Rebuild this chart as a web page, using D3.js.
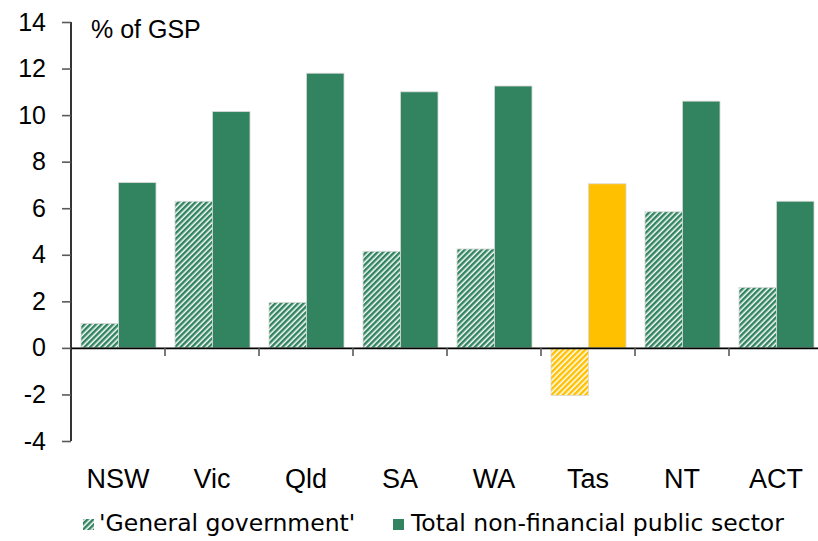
<!DOCTYPE html>
<html><head><meta charset="utf-8">
<script src="https://cdn.jsdelivr.net/npm/d3@7/dist/d3.min.js"></script>
<style>body{margin:0;background:#fff}</style>
</head><body>
<script>
const categories = ["NSW","Vic","Qld","SA","WA","Tas","NT","ACT"];
const generalGov = [1.05, 6.3, 1.95, 4.15, 4.25, -2.05, 5.85, 2.6];
const totalNFPS = [7.1, 10.15, 11.8, 11.0, 11.25, 7.05, 10.6, 6.3];
const yTicks = [-4,-2,0,2,4,6,8,10,12,14];
const highlight = "Tas";

const W=818,H=541;
const svg=d3.select("body").append("svg").attr("width",W).attr("height",H);
const font="'Liberation Sans', Arial, sans-serif";
const lfont="'DejaVu Sans', sans-serif";
const green="#31845f", yellow="#ffc000";

const defs=svg.append("defs");
function hatch(id,color){
  const p=defs.append("pattern").attr("id",id).attr("patternUnits","userSpaceOnUse")
    .attr("width",4).attr("height",4).attr("patternTransform","rotate(45)");
  p.append("rect").attr("width",4).attr("height",4).attr("fill","#fff");
  p.append("rect").attr("width",2.5).attr("height",4).attr("fill",color);
}
hatch("hg",green); hatch("hy",yellow);

const x0=71;
const x=d3.scaleBand().domain(categories).range([x0,x0+94*8]).paddingInner(0).paddingOuter(0);
const y=d3.scaleLinear().domain([-4,14]).range([441,22]);
const inner=d3.scaleBand().domain(["gg","tot"]).range([10,85]);

const g=svg.append("g");
categories.forEach((c,i)=>{
  const col = c===highlight?yellow:green;
  const vg=generalGov[i], vt=totalNFPS[i];
  g.append("rect").attr("x",x(c)+inner("gg")).attr("width",inner.bandwidth())
    .attr("y",y(Math.max(0,vg))).attr("height",Math.abs(y(vg)-y(0)))
    .attr("fill",c===highlight?"url(#hy)":"url(#hg)").attr("stroke","#d8d8d8").attr("stroke-width",0.8);
  g.append("rect").attr("x",x(c)+inner("tot")).attr("width",inner.bandwidth())
    .attr("y",y(Math.max(0,vt))).attr("height",Math.abs(y(vt)-y(0)))
    .attr("fill",col).attr("stroke","#d8d8d8").attr("stroke-width",0.8);
});

// y axis
const ya=svg.append("g").attr("transform",`translate(${x0},0)`)
  .call(d3.axisLeft(y).tickValues(yTicks).tickSize(9).tickPadding(16).tickFormat(d=>String(d)));
ya.select(".domain").attr("stroke","#000").attr("stroke-width",1.6).attr("d",`M0,${y(14)}V${y(-4)}`);
ya.selectAll(".tick line").attr("stroke","#595959").attr("stroke-width",1.6);
ya.selectAll(".tick text").attr("font-family",font).attr("font-size",25).attr("fill","#000");

// x axis at zero
const xa=svg.append("g").attr("transform",`translate(0,${y(0)})`)
  .call(d3.axisBottom(x).tickSize(0).tickFormat(""));
xa.select(".domain").attr("stroke","#000").attr("stroke-width",1.6);
xa.selectAll(".tick").remove();
d3.range(1,9).forEach(k=>{
  svg.append("line").attr("x1",x0+94*k).attr("x2",x0+94*k).attr("y1",y(0)).attr("y2",y(0)+8)
    .attr("stroke","#595959").attr("stroke-width",1.6);
});
categories.forEach(c=>{
  svg.append("text").attr("x",x(c)+x.bandwidth()/2).attr("y",488).attr("text-anchor","middle")
    .attr("font-family",font).attr("font-size",27).attr("fill","#000").text(c);
});

svg.append("text").attr("x",91).attr("y",38).attr("font-family",font).attr("font-size",25).text("% of GSP");

// legend
const ly=531;
svg.append("rect").attr("x",83).attr("y",ly-12).attr("width",11).attr("height",11).attr("fill","url(#hg)");
svg.append("text").attr("x",99).attr("y",ly).attr("font-family",lfont).attr("font-size",23.5).text("'General government'");
svg.append("rect").attr("x",393).attr("y",ly-12).attr("width",11).attr("height",11).attr("fill",green);
svg.append("text").attr("x",411).attr("y",ly).attr("font-family",lfont).attr("font-size",23.5).text("Total non-financial public sector");
</script>
</body></html>
